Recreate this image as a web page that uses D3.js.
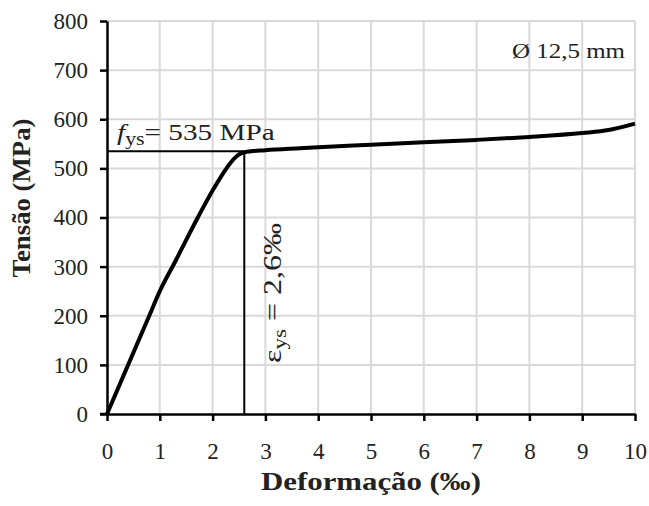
<!DOCTYPE html>
<html lang="pt">
<head>
  <meta charset="UTF-8">
  <title>Tensão x Deformação</title>
  <script src="https://d3js.org/d3.v7.min.js"></script>
  <style>
    body { margin: 0; background: #fff; }
    svg text { font-family: "Liberation Serif", "Times New Roman", serif; fill: #222; }
  </style>
</head>
<body>
  <svg id="chart" width="649" height="506"></svg>
  <script>
    // strain (‰) and stress (MPa)
    const strain = [0, 0.4, 0.8, 1.0, 1.3, 1.72, 2.0, 2.2, 2.33, 2.45, 2.55, 2.65, 3.0, 3.66, 4, 5, 6, 7, 8, 9, 9.5, 10];
    const stress = [0, 100, 200, 250, 312, 400, 455, 490, 510, 524, 531, 534, 537, 541, 543, 548, 553, 558, 564, 572, 578, 591];
    const xTicks = [0, 1, 2, 3, 4, 5, 6, 7, 8, 9, 10];
    const yTicks = [0, 100, 200, 300, 400, 500, 600, 700, 800];
    const fys = 535;
    const eys = 2.6;

    const margin = { top: 21, right: 14, bottom: 92, left: 107 };
    const width = 649 - margin.left - margin.right;
    const height = 506 - margin.top - margin.bottom;

    const svg = d3.select("#chart");
    const g = svg.append("g").attr("transform", `translate(${margin.left},${margin.top})`);

    const x = d3.scaleLinear().domain([0, 10]).range([0, width]);
    const y = d3.scaleLinear().domain([0, 800]).range([height, 0]);

    // stretch a label along its baseline so it covers the wanted length
    function fitLabel(sel, base, len) {
      const w = sel.node().getBBox().width;
      sel.attr("transform", `${base} scale(${len / w},1)`);
    }

    // grid
    g.append("g").selectAll("line").data(xTicks.slice(1)).join("line")
      .attr("x1", d => x(d)).attr("x2", d => x(d))
      .attr("y1", 0).attr("y2", height)
      .attr("stroke", "#d9d9d9").attr("stroke-width", 2);
    g.append("g").selectAll("line").data(yTicks.slice(1)).join("line")
      .attr("x1", 0).attr("x2", width)
      .attr("y1", d => y(d)).attr("y2", d => y(d))
      .attr("stroke", "#d9d9d9").attr("stroke-width", 2);

    // reference lines
    g.append("line")
      .attr("x1", x(0)).attr("x2", x(eys))
      .attr("y1", y(fys)).attr("y2", y(fys))
      .attr("stroke", "#000").attr("stroke-width", 2);
    g.append("line")
      .attr("x1", x(eys)).attr("x2", x(eys))
      .attr("y1", y(fys)).attr("y2", y(0))
      .attr("stroke", "#000").attr("stroke-width", 2);

    // curve
    const pts = strain.map((s, i) => [s, stress[i]]);
    g.append("path")
      .datum(pts)
      .attr("fill", "none")
      .attr("stroke", "#000")
      .attr("stroke-width", 4)
      .attr("stroke-linejoin", "round")
      .attr("d", d3.line().x(d => x(d[0])).y(d => y(d[1])).curve(d3.curveMonotoneX));

    // axes
    const xAxis = g.append("g")
      .attr("transform", `translate(0,${height})`)
      .call(d3.axisBottom(x).tickValues(xTicks).tickSize(7).tickSizeOuter(0).tickPadding(22));
    const yAxis = g.append("g")
      .call(d3.axisLeft(y).tickValues(yTicks).tickSize(7).tickSizeOuter(0).tickPadding(12));
    [xAxis, yAxis].forEach(a => {
      a.select(".domain").attr("stroke", "#000").attr("stroke-width", 2.5);
      a.selectAll(".tick line").attr("stroke", "#000").attr("stroke-width", 2.5);
      a.selectAll(".tick text")
        .style("font-family", "Liberation Serif, serif")
        .style("font-size", "23px").attr("fill", "#222");
    });
    // x axis line reaches the y tick at 0
    g.append("line")
      .attr("x1", -7).attr("x2", 0).attr("y1", height).attr("y2", height)
      .attr("stroke", "#000").attr("stroke-width", 2.5);

    // labels
    const fl = g.append("text").style("font-size", "24px");
    fl.append("tspan").text("f").style("font-style", "italic");
    fl.append("tspan").text("ys").attr("dy", 5).style("font-size", "18px");
    fl.append("tspan").text("= 535 MPa").attr("dy", -5);
    fitLabel(fl, `translate(${x(0.19)},${y(fys) - 11})`, 158);

    const el = g.append("text").style("font-size", "25px");
    el.append("tspan").text("ε");
    el.append("tspan").text("ys").attr("dy", 5).style("font-size", "18px");
    el.append("tspan").text(" = 2,6‰").attr("dy", -5);
    fitLabel(el, `translate(${x(eys) + 37},${y(0) - 51}) rotate(-90)`, 140);

    const dl = g.append("text")
      .attr("text-anchor", "end")
      .style("font-size", "22px")
      .text("Ø 12,5 mm");
    fitLabel(dl, `translate(${width - 10},37)`, 113);

    const xl = svg.append("text")
      .attr("text-anchor", "middle")
      .style("font-size", "26px").style("font-weight", "bold")
      .text("Deformação (‰)");
    fitLabel(xl, `translate(${margin.left + width / 2},490)`, 220);

    const yl = svg.append("text")
      .attr("text-anchor", "middle")
      .style("font-size", "26px").style("font-weight", "bold")
      .text("Tensão (MPa)");
    fitLabel(yl, `translate(30,198) rotate(-90)`, 159);
  </script>
</body>
</html>
